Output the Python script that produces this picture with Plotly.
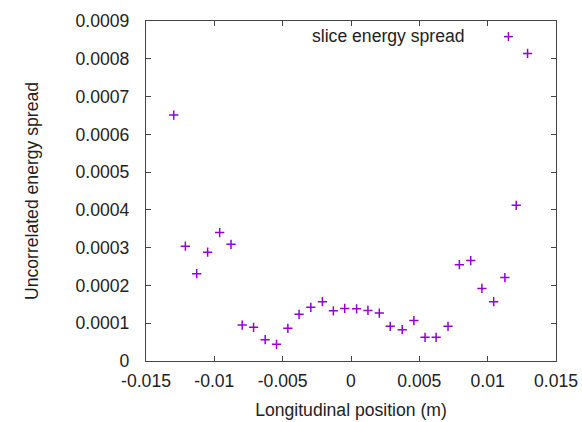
import plotly.graph_objects as go

# Data
x_pos = [-0.01297, -0.01212, -0.01129, -0.01049, -0.00961, -0.00878, -0.00796, -0.00713,
         -0.00628, -0.00545, -0.00462, -0.00380, -0.00294, -0.00209, -0.00129, -0.00046,
         0.00041, 0.00124, 0.00207, 0.00287, 0.00375, 0.00460, 0.00542, 0.00623,
         0.00710, 0.00793, 0.00876, 0.00958, 0.01044, 0.01126, 0.01209, 0.01292]
spread = [0.000651, 0.000304, 0.000231, 0.000288, 0.000340, 0.000309, 0.0000952, 0.0000891,
          0.0000564, 0.0000441, 0.0000864, 0.0001235, 0.000142, 0.000157, 0.000133, 0.000139,
          0.000138, 0.000134, 0.000127, 0.0000917, 0.0000829, 0.000107, 0.0000626, 0.0000626,
          0.0000917, 0.000255, 0.000266, 0.000192, 0.000157, 0.000221, 0.000412, 0.000814]

x_tickvals = [-0.015, -0.01, -0.005, 0, 0.005, 0.01, 0.015]
x_ticktext = ["-0.015", "-0.01", "-0.005", "0", "0.005", "0.01", "0.015"]
y_tickvals = [0, 0.0001, 0.0002, 0.0003, 0.0004, 0.0005, 0.0006, 0.0007, 0.0008, 0.0009]
y_ticktext = ["0", "0.0001", "0.0002", "0.0003", "0.0004", "0.0005", "0.0006", "0.0007", "0.0008", "0.0009"]

series_name = "slice energy spread"
color = "#9400D3"
font_family = "Liberation Sans, Arial, sans-serif"
text_color = "#222222"
fs = 17.6

fig = go.Figure()
fig.add_trace(go.Scatter(
    x=x_pos, y=spread, mode="markers", name=series_name, showlegend=False,
    marker=dict(symbol="cross-thin-open", size=6.6, color=color, line=dict(color=color, width=1.5)),
))

axis_common = dict(
    showgrid=False, zeroline=False, showline=True, linecolor="#444444", linewidth=1.2,
    mirror="ticks", ticks="inside", ticklen=5, tickwidth=1, tickcolor="#444444",
    tickfont=dict(family=font_family, size=fs, color=text_color),
)

fig.update_layout(
    width=582, height=422,
    margin=dict(l=146, r=26, t=21, b=61),
    paper_bgcolor="white", plot_bgcolor="white",
    font=dict(family=font_family, size=fs, color=text_color),
    xaxis=dict(range=[-0.015, 0.015], tickmode="array", tickvals=x_tickvals, ticktext=x_ticktext,
               title=dict(text="Longitudinal position (m)", standoff=13,
                          font=dict(family=font_family, size=fs, color=text_color)),
               ticklabelstandoff=4, automargin=False, **axis_common),
    yaxis=dict(range=[0, 0.0009], tickmode="array", tickvals=y_tickvals, ticktext=y_ticktext,
               title=dict(text="Uncorrelated energy spread", standoff=32,
                          font=dict(family=font_family, size=fs, color=text_color)),
               ticklabelstandoff=12, automargin=False, **axis_common),
    showlegend=False,
)

# gnuplot-style key: text followed by the point sample
fig.add_annotation(xref="paper", yref="paper", x=0.783, y=0.956, xanchor="right", yanchor="middle",
                   text=series_name, showarrow=False,
                   font=dict(family=font_family, size=fs, color=text_color))
kx, ky = 0.884, 0.954
dx, dy = 4.5 / 410, 4.5 / 340
fig.add_shape(type="line", xref="paper", yref="paper", x0=kx - dx, x1=kx + dx, y0=ky, y1=ky,
              line=dict(color=color, width=1.5))
fig.add_shape(type="line", xref="paper", yref="paper", x0=kx, x1=kx, y0=ky - dy, y1=ky + dy,
              line=dict(color=color, width=1.5))

fig.write_html("out.html")
